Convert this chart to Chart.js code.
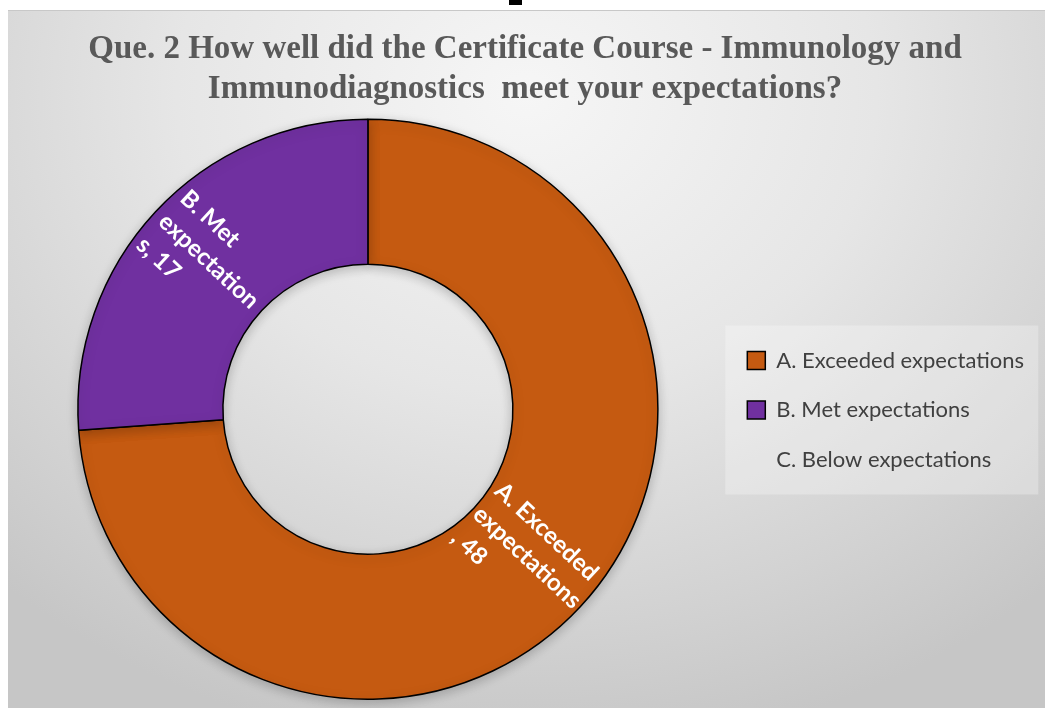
<!DOCTYPE html>
<html>
<head>
<meta charset="utf-8">
<script src="https://cdn.jsdelivr.net/npm/chart.js@4.4.1/dist/chart.umd.min.js"></script>
<style>
  html, body { margin: 0; padding: 0; background: #fff; }
  body { width: 1045px; height: 708px; position: relative; overflow: hidden; }
  .frag { position: absolute; left: 509px; top: 0; width: 13px; height: 5px; background: #000; }
  .panel {
    position: absolute; left: 8px; top: 10px; width: 1037px; height: 698px;
    border-top: 1px solid #c8c8c8; box-sizing: border-box;
    background: radial-gradient(ellipse 75% 95% at 50% 12%, #f6f6f6 0%, #e6e6e6 45%, #d2d2d2 80%, #c6c6c6 100%);
  }
</style>
</head>
<body>
<div class="frag"></div>
<div class="panel"><canvas id="donut"></canvas></div>
<script>
const titleLines = ['Que. 2 How well did the Certificate Course - Immunology and', 'Immunodiagnostics  meet your expectations?'];
const categories = ['A. Exceeded expectations', 'B. Met expectations', 'C. Below expectations'];
const responses = [48, 17, 0];
const sliceColors = ['#C55A11', '#7030A0', 'rgba(0,0,0,0)'];
const edgeColors = ['#000000', '#000000', 'rgba(0,0,0,0)'];
// wrapped the way the original labels wrap
const sliceLabelLines = [['A. Exceeded', 'expectations', ', 48'], ['B. Met', 'expectation', 's, 17'], []];

const legendPanel = {
  id: 'legendPanel',
  beforeDraw(chart) {
    const boxes = chart.legend && chart.legend.legendHitBoxes;
    if (!boxes || !boxes.length) return;
    const first = boxes[0];
    const last = boxes[boxes.length - 1];
    const ctx = chart.ctx;
    ctx.save();
    ctx.fillStyle = 'rgba(255,255,255,0.28)';
    ctx.fillRect(first.left - 22, first.top - 24, 313, last.top + last.height + 24 - (first.top - 24));
    ctx.restore();
  }
};

const ringShadow = {
  id: 'ringShadow',
  beforeDatasetDraw(chart) {
    const ctx = chart.ctx;
    ctx.save();
    ctx.shadowColor = 'rgba(0,0,0,0.22)';
    ctx.shadowBlur = 12;
    ctx.shadowOffsetY = 3;
  },
  afterDatasetDraw(chart) {
    chart.ctx.restore();
  }
};

const sliceLabels = {
  id: 'sliceLabels',
  afterDatasetsDraw(chart) {
    const ctx = chart.ctx;
    const meta = chart.getDatasetMeta(0);
    ctx.save();
    ctx.font = 'bold 24px Lato';
    ctx.fillStyle = '#ffffff';
    ctx.textBaseline = 'middle';
    ctx.textAlign = 'left';
    meta.data.forEach((arc, i) => {
      const lines = sliceLabelLines[i];
      if (!responses[i] || !lines.length) return;
      const p = arc.getProps(['x', 'y', 'startAngle', 'endAngle', 'innerRadius', 'outerRadius'], true);
      const mid = (p.startAngle + p.endAngle) / 2;
      const r = (p.innerRadius + p.outerRadius) / 2;
      const cx = p.x + Math.cos(mid) * r;
      const cy = p.y + Math.sin(mid) * r;
      let rot = mid;
      if (Math.cos(mid) < 0) rot += Math.PI;
      const lh = 32;
      const w = Math.max(...lines.map((l) => ctx.measureText(l).width));
      ctx.save();
      ctx.translate(cx, cy);
      ctx.rotate(rot);
      lines.forEach((l, k) => {
        ctx.fillText(l, -w / 2, (k - (lines.length - 1) / 2) * lh);
      });
      ctx.restore();
    });
    ctx.restore();
  }
};

new Chart(document.getElementById('donut'), {
  type: 'doughnut',
  data: {
    labels: categories,
    datasets: [{
      data: responses,
      backgroundColor: sliceColors,
      borderColor: edgeColors,
      borderWidth: 1.5
    }]
  },
  options: {
    responsive: true,
    maintainAspectRatio: false,
    animation: false,
    cutout: '50%',
    layout: { padding: { left: 8, right: 11, bottom: 8, top: 0 } },
    plugins: {
      title: {
        display: true,
        text: titleLines,
        color: '#595959',
        font: { family: 'Liberation Serif', weight: 'bold', size: 33, lineHeight: 1.22 },
        padding: { top: 18, bottom: 9 }
      },
      legend: {
        position: 'right',
        align: 'center',
        title: { display: true, text: ' ', font: { size: 10, lineHeight: 1 }, padding: { top: 99, bottom: 0 } },
        labels: {
          boxWidth: 18,
          boxHeight: 18,
          padding: 27.5,
          color: '#404040',
          font: { family: 'Lato', size: 22 }
        }
      },
      tooltip: { enabled: false }
    }
  },
  plugins: [legendPanel, ringShadow, sliceLabels]
});
</script>
</body>
</html>
